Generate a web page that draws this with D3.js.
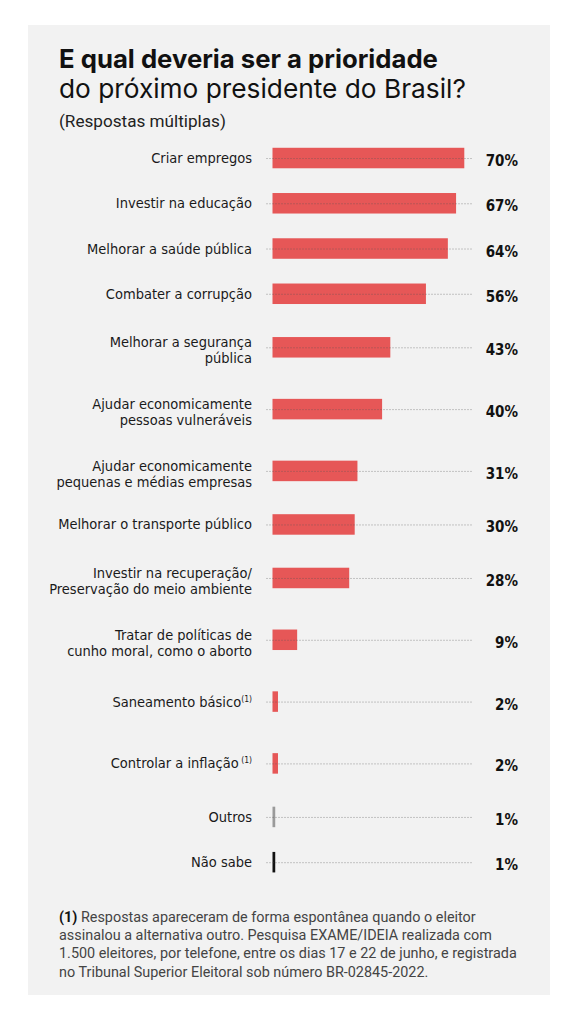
<!DOCTYPE html>
<html>
<head>
<meta charset="utf-8">
<script src="https://cdn.jsdelivr.net/npm/d3@7"></script>
<style>
  html, body { margin: 0; padding: 0; background: #ffffff; }
  svg { display: block; }
</style>
</head>
<body>
<svg id="chart" width="578" height="1024"></svg>
<script>
// ---- data ----
const categories = [
  "Criar empregos",
  "Investir na educação",
  "Melhorar a saúde pública",
  "Combater a corrupção",
  "Melhorar a segurança\npública",
  "Ajudar economicamente\npessoas vulneráveis",
  "Ajudar economicamente\npequenas e médias empresas",
  "Melhorar o transporte público",
  "Investir na recuperação/\nPreservação do meio ambiente",
  "Tratar de políticas de\ncunho moral, como o aborto",
  "Saneamento básico",
  "Controlar a inflação",
  "Outros",
  "Não sabe"
];
const values = [70, 67, 64, 56, 43, 40, 31, 30, 28, 9, 2, 2, 1, 1];
const valueLabels = ["70%", "67%", "64%", "56%", "43%", "40%", "31%", "30%", "28%", "9%", "2%", "2%", "1%", "1%"];
const footnoteMarks = ["", "", "", "", "", "", "", "", "", "", "(1)", " (1)", "", ""];
const barGroups = ["main", "main", "main", "main", "main", "main", "main", "main", "main", "main", "main", "main", "other", "none"];

const titleBold = "E qual deveria ser a prioridade";
const titleRegular = "do próximo presidente do Brasil?";
const subtitle = "(Respostas múltiplas)";
const noteMark = "(1)";
const noteLines = [
  " Respostas apareceram de forma espontânea quando o eleitor",
  "assinalou a alternativa outro. Pesquisa EXAME/IDEIA realizada com",
  "1.500 eleitores, por telefone, entre os dias 17 e 22 de junho, e registrada",
  "no Tribunal Superior Eleitoral sob número BR-02845-2022."
];

// ---- layout ----
const svg = d3.select("#chart");
const labelFont = "'DejaVu Sans Condensed', 'Liberation Sans Narrow', 'Roboto', sans-serif";
const titleFont = "'Inter', 'Roboto', sans-serif";
const textFont = "'Roboto', 'Liberation Sans', sans-serif";

svg.append("rect").attr("x", 28).attr("y", 25).attr("width", 522).attr("height", 970).attr("fill", "#f2f2f2");

// fit a text element's font-size so its width equals a target width
function fitWidth(sel, target) {
  const fs = parseFloat(sel.style("font-size"));
  const w = sel.node().getComputedTextLength();
  if (w > 0) sel.style("font-size", (fs * target / w).toFixed(2) + "px");
}

// titles
const t1 = svg.append("text").attr("x", 59).attr("y", 68)
  .style("font-family", titleFont).style("font-weight", 700).style("font-size", "24px")
  .attr("fill", "#111").text(titleBold);
fitWidth(t1, 379);
const t2 = svg.append("text").attr("x", 59).attr("y", 98)
  .style("font-family", titleFont).style("font-weight", 400).style("font-size", "24px")
  .attr("fill", "#111").text(titleRegular);
fitWidth(t2, 407);
const st = svg.append("text").attr("x", 59).attr("y", 127)
  .style("font-family", textFont).style("font-weight", 400).style("font-size", "14.5px")
  .attr("fill", "#222").text(subtitle);
fitWidth(st, 167);

// rows: taller rows for two-line labels and for labels carrying a footnote mark
const rows = categories.map((c, i) => ({
  label: c.split("\n"),
  value: values[i],
  vlabel: valueLabels[i],
  mark: footnoteMarks[i],
  group: barGroups[i]
}));
const units = rows.map(r => (r.label.length > 1 || r.mark) ? 1.366 : 1);
const cum = [];
let acc = 0;
units.forEach((u, i) => { cum.push(acc + u / 2); acc += u; });

const y = d3.scaleLinear().domain([0, acc]).range([135.4, 884.8]);
const x = d3.scaleLinear().domain([0, 100]).range([272.5, 546.5]);
const barH = 20.5;
const color = d3.scaleOrdinal().domain(["main", "other", "none"]).range(["#e65757", "#9a9a9a", "#111111"]);

const g = svg.append("g");
const row = g.selectAll("g.row").data(rows).join("g").attr("class", "row")
  .attr("transform", (d, i) => `translate(0,${y(cum[i])})`);

// bars
row.append("rect")
  .attr("x", x(0))
  .attr("y", -barH / 2)
  .attr("width", d => Math.max(x(d.value) - x(0), 2.5))
  .attr("height", barH)
  .attr("fill", d => color(d.group));

// dotted guide (drawn over the bars, faint)
row.append("line")
  .attr("x1", x(0) - 6).attr("x2", x(72.8))
  .attr("y1", 0.5).attr("y2", 0.5)
  .attr("stroke", "#555").attr("stroke-opacity", 0.6).attr("stroke-width", 1).attr("stroke-dasharray", "1,2");

// category labels
const lab = row.append("text")
  .attr("text-anchor", "end")
  .attr("x", 252)
  .style("font-family", labelFont).style("font-stretch", "condensed").style("font-size", "14.5px")
  .attr("fill", "#1a1a1a");
lab.each(function(d) {
  const t = d3.select(this);
  const n = d.label.length;
  d.label.forEach((line, k) => {
    t.append("tspan").attr("x", 252)
      .attr("y", n === 1 ? 5 : (k === 0 ? 0 : 16)).text(line);
  });
  if (d.mark) {
    t.append("tspan").attr("dy", -5).style("font-size", "8.5px").text(d.mark);
  }
});

// value labels
row.append("text")
  .attr("text-anchor", "end")
  .attr("x", 518)
  .attr("y", 8)
  .style("font-family", labelFont).style("font-stretch", "condensed").style("font-weight", 700).style("font-size", "15px")
  .attr("fill", "#111")
  .text(d => d.vlabel);

// footnote
const note = svg.append("text")
  .style("font-family", textFont).style("font-size", "14.4px").attr("fill", "#444");
noteLines.forEach((line, k) => {
  const ts = note.append("tspan").attr("x", 59).attr("y", 922 + k * 18.2);
  if (k === 0) {
    ts.append("tspan").style("font-weight", 700).attr("fill", "#111").text(noteMark);
    ts.append("tspan").text(line);
  } else {
    ts.text(line);
  }
});
</script>
</body>
</html>
